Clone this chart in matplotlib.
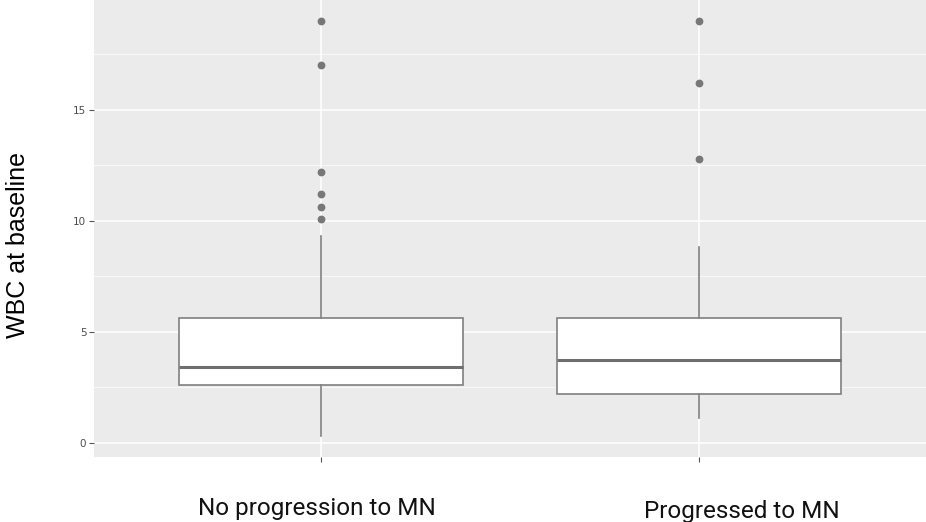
import matplotlib
matplotlib.use("Agg")
import matplotlib.pyplot as plt
from matplotlib.ticker import MultipleLocator


# ----- data -----
groups = ["No progression to MN", "Progressed to MN"]
whis_low = [0.3, 1.1]
q1 = [2.6, 2.2]
median = [3.4, 3.75]
q3 = [5.6, 5.6]
whis_high = [9.3, 8.8]
outliers = [
    [19.0, 17.0, 12.2, 11.2, 10.6, 10.1],
    [19.0, 16.2, 12.8],
]

Y_LABEL = "WBC at baseline"

BOX_COLOR = "#808080"
PANEL_BG = "#ebebeb"


def make_stats():
    stats = []
    for i in range(len(groups)):
        stats.append({
            "label": groups[i],
            "whislo": whis_low[i],
            "q1": q1[i],
            "med": median[i],
            "q3": q3[i],
            "whishi": whis_high[i],
            "fliers": outliers[i],
        })
    return stats


def main():
    fig = plt.figure(figsize=(9.26, 5.22), dpi=100)
    ax = fig.add_axes([94 / 926, 65 / 522, 832 / 926, 457 / 522])
    ax.set_facecolor(PANEL_BG)

    ax.bxp(
        make_stats(),
        positions=[1, 2],
        widths=0.75,
        showcaps=False,
        patch_artist=True,
        boxprops=dict(facecolor="white", edgecolor=BOX_COLOR, linewidth=1.2),
        whiskerprops=dict(color=BOX_COLOR, linewidth=1.2),
        medianprops=dict(color="#6e6e6e", linewidth=2.2),
        flierprops=dict(marker="o", markersize=4.6, markerfacecolor="#777777",
                        markeredgecolor="#777777"),
        zorder=3,
    )

    # ggplot-like limits (5% expansion, 0.6 on discrete axis)
    lo = min(whis_low)
    hi = max(max(o) for o in outliers)
    pad = (hi - lo) * 0.05
    ax.set_ylim(lo - pad, hi + pad)
    ax.set_xlim(0.4, 2.6)

    # grid
    ax.yaxis.set_major_locator(MultipleLocator(5))
    ax.yaxis.set_minor_locator(MultipleLocator(2.5))
    ax.grid(True, which="major", color="white", linewidth=1.1, zorder=0)
    ax.grid(True, which="minor", axis="y", color="white", linewidth=0.5, zorder=0)
    ax.set_axisbelow(True)

    for s in ax.spines.values():
        s.set_visible(False)

    ax.set_xticks([1, 2])
    ax.set_xticklabels(["", ""])
    ax.tick_params(axis="both", which="major", length=3.5, width=0.8,
                   color="#555555", labelcolor="#4d4d4d", labelsize=7.5, pad=2)
    ax.tick_params(axis="y", which="minor", length=0)

    # x labels (not centred on ticks in the original)
    fig.text(317 / 926, 1 - 515 / 522, groups[0], ha="center", va="baseline",
             fontsize=17.5, family="Roboto", color="#111111")
    fig.text(742 / 926, 1 - 518 / 522, groups[1], ha="center", va="baseline",
             fontsize=17.5, family="Roboto", color="#111111")

    fig.text(18 / 926, 1 - 245 / 522, Y_LABEL, rotation=90, ha="center",
             va="center", fontsize=18, family="Liberation Sans", color="black")

    fig.savefig("out.png", dpi=100)


if __name__ == "__main__":
    main()
